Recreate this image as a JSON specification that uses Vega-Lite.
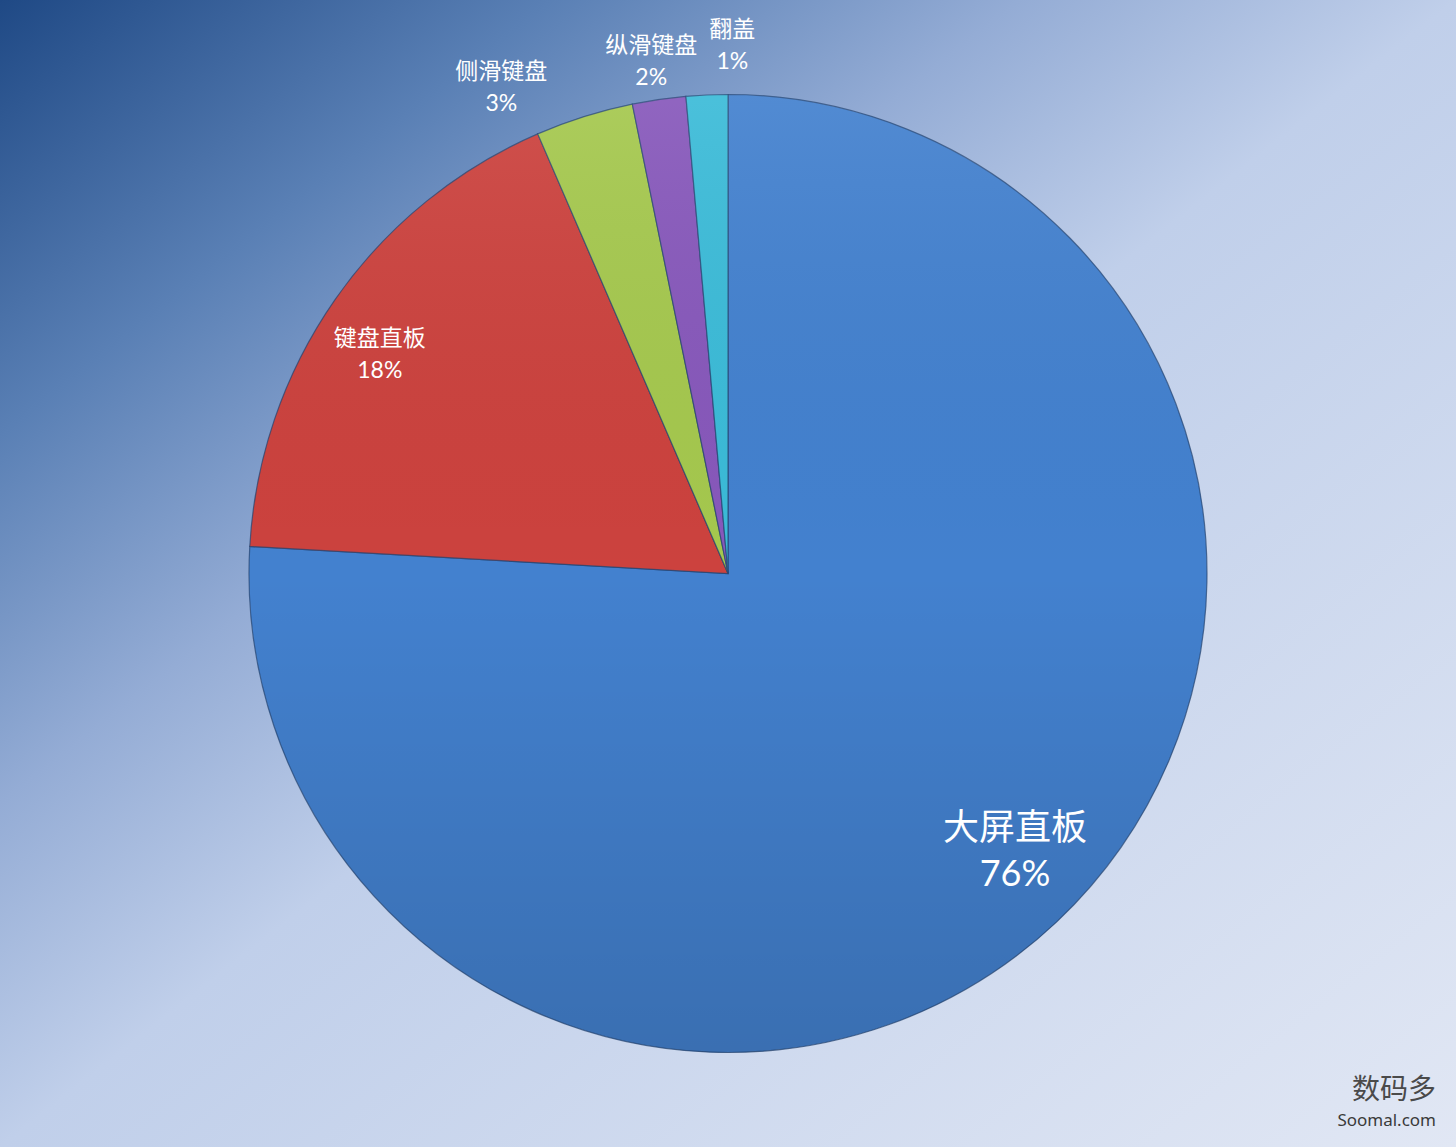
{
  "$schema": "https://vega.github.io/schema/vega-lite/v6.json",
  "width": 1456,
  "height": 1147,
  "autosize": {"type": "fit", "contains": "padding"},
  "padding": 0,
  "config": {"view": {"stroke": null}},
  "title": {
    "text": "数码多",
    "subtitle": "Soomal.com",
    "orient": "bottom",
    "anchor": "end",
    "frame": "group",
    "offset": -70,
    "dx": -20,
    "font": "Noto Sans CJK SC",
    "fontSize": 28,
    "fontWeight": "normal",
    "color": "#4a4a4a",
    "subtitleFont": "Noto Sans",
    "subtitleFontSize": 17,
    "subtitleColor": "#3a3a3a",
    "subtitlePadding": 8
  },
  "datasets": {
    "shares": [
      {"category": "大屏直板", "value": 75.9, "label": "大屏直板\n76%"},
      {"category": "键盘直板", "value": 17.6, "label": "键盘直板\n18%"},
      {"category": "侧滑键盘", "value": 3.3, "label": "侧滑键盘\n3%"},
      {"category": "纵滑键盘", "value": 1.8, "label": "纵滑键盘\n2%"},
      {"category": "翻盖", "value": 1.4, "label": "翻盖\n1%"}
    ]
  },
  "layer": [
    {
      "data": {"values": [{"bg": 1}]},
      "mark": {
        "type": "rect",
        "fill": {"gradient": "linear", "x1": 0, "y1": 0, "x2": 1, "y2": 1,
          "stops": [
            {"offset": 0, "color": "#1f4985"},
            {"offset": 0.19, "color": "#5a80b5"},
            {"offset": 0.35, "color": "#94acd5"},
            {"offset": 0.5, "color": "#c0cfea"},
            {"offset": 1, "color": "#e1e7f4"}
          ]}
      },
      "encoding": {
        "x": {"value": 0},
        "x2": {"value": "width"},
        "y": {"value": 0},
        "y2": {"value": "height"}
      }
    },
    {
      "data": {"name": "shares"},
      "mark": {"type": "arc", "outerRadius": 479, "stroke": "#23436f", "strokeOpacity": 0.7, "strokeWidth": 1.2},
      "encoding": {
        "theta": {"field": "value", "type": "quantitative", "stack": true},
        "order": {"field": "value", "sort": "descending"},
        "color": {
          "field": "category", "type": "nominal", "legend": null,
          "scale": {
            "domain": ["大屏直板", "键盘直板", "侧滑键盘", "纵滑键盘", "翻盖"],
            "range": ["#4381cf", "#cc423e", "#a5c84e", "#8758bb", "#3bbbd8"]
          }
        }
      }
    },
    {
      "data": {"values": [{"v": 1}]},
      "mark": {
        "type": "arc", "outerRadius": 479, "theta": 6.2832,
        "fill": {"gradient": "linear", "x1": 0, "y1": 0, "x2": 0, "y2": 1,
          "stops": [
            {"offset": 0, "color": "rgba(255,255,255,0.08)"},
            {"offset": 0.5, "color": "rgba(0,0,0,0.0)"},
            {"offset": 1, "color": "rgba(0,0,0,0.14)"}
          ]}
      },
      "encoding": {}
    },
    {
      "data": {"name": "shares"},
      "mark": {"type": "text", "radius": 384, "thetaOffset": -0.087, "fontSize": 36, "lineHeight": 46, "lineBreak": "\n", "color": "white", "font": "Lato, Noto Sans CJK SC", "align": "center", "baseline": "middle"},
      "encoding": {
        "theta": {"field": "value", "type": "quantitative", "stack": true},
        "order": {"field": "value", "sort": "descending"},
        "text": {"condition": {"test": "datum.category === '大屏直板'", "field": "label"}, "value": ""}
      }
    },
    {
      "data": {"name": "shares"},
      "mark": {"type": "text", "radius": 420, "thetaOffset": -0.016, "fontSize": 23, "lineHeight": 32, "lineBreak": "\n", "color": "white", "font": "Lato, Noto Sans CJK SC", "align": "center", "baseline": "middle"},
      "encoding": {
        "theta": {"field": "value", "type": "quantitative", "stack": true},
        "order": {"field": "value", "sort": "descending"},
        "text": {"condition": {"test": "datum.category === '键盘直板'", "field": "label"}, "value": ""}
      }
    },
    {
      "data": {"name": "shares"},
      "mark": {"type": "text", "radius": 550, "thetaOffset": -0.12, "fontSize": 23, "lineHeight": 32, "lineBreak": "\n", "color": "white", "font": "Lato, Noto Sans CJK SC", "align": "center", "baseline": "middle"},
      "encoding": {
        "theta": {"field": "value", "type": "quantitative", "stack": true},
        "order": {"field": "value", "sort": "descending"},
        "text": {"condition": {"test": "datum.category === '侧滑键盘'", "field": "label"}, "value": ""}
      }
    },
    {
      "data": {"name": "shares"},
      "mark": {"type": "text", "radius": 533, "thetaOffset": 0, "fontSize": 23, "lineHeight": 32, "lineBreak": "\n", "color": "white", "font": "Lato, Noto Sans CJK SC", "align": "center", "baseline": "middle"},
      "encoding": {
        "theta": {"field": "value", "type": "quantitative", "stack": true},
        "order": {"field": "value", "sort": "descending"},
        "text": {"condition": {"test": "datum.category === '纵滑键盘'", "field": "label"}, "value": ""}
      }
    },
    {
      "data": {"name": "shares"},
      "mark": {"type": "text", "radius": 544, "thetaOffset": 0.052, "fontSize": 23, "lineHeight": 32, "lineBreak": "\n", "color": "white", "font": "Lato, Noto Sans CJK SC", "align": "center", "baseline": "middle"},
      "encoding": {
        "theta": {"field": "value", "type": "quantitative", "stack": true},
        "order": {"field": "value", "sort": "descending"},
        "text": {"condition": {"test": "datum.category === '翻盖'", "field": "label"}, "value": ""}
      }
    }
  ]
}
